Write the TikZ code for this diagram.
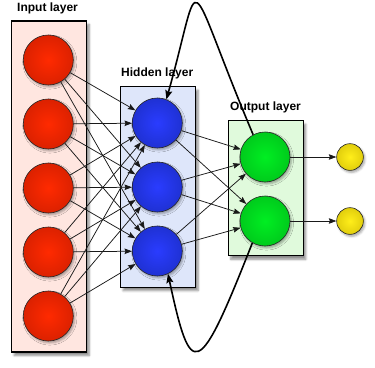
\documentclass[tikz,border=0pt]{standalone}
\usepackage{fontspec}
\setmainfont{Liberation Sans}
\usetikzlibrary{arrows.meta,shadows.blur}
\definecolor{redin}{HTML}{FF2A00}
\definecolor{redout}{HTML}{B81800}
\definecolor{bluein}{HTML}{2A3CFF}
\definecolor{blueout}{HTML}{1426A8}
\definecolor{greenin}{HTML}{00EE22}
\definecolor{greenout}{HTML}{00A816}
\definecolor{yellowin}{HTML}{FFEE1A}
\definecolor{yellowout}{HTML}{C4AE00}
\definecolor{infill}{HTML}{FFE6E0}
\definecolor{hidfill}{HTML}{DEE6FA}
\definecolor{outfill}{HTML}{E0FADC}
\pgfdeclareradialshading{redball}{\pgfpointorigin}{color(0bp)=(redin); color(50bp)=(redout)}
\pgfdeclareradialshading{blueball}{\pgfpointorigin}{color(0bp)=(bluein); color(50bp)=(blueout)}
\pgfdeclareradialshading{greenball}{\pgfpointorigin}{color(0bp)=(greenin); color(50bp)=(greenout)}
\pgfdeclareradialshading{yellowball}{\pgfpointorigin}{color(0bp)=(yellowin); color(50bp)=(yellowout)}
\begin{document}
\begin{tikzpicture}[x=1pt,y=-1pt,
  layerbox/.style={rectangle, draw=black, line width=1.3pt, minimum width=75pt, inner sep=0pt,
    blur shadow={shadow xshift=2.5pt, shadow yshift=-3.5pt, shadow blur steps=6, shadow opacity=45}},
  neuron/.style={circle, draw=black!85, line width=0.6pt, minimum size=50pt, inner sep=0pt,
    blur shadow={shadow xshift=1.5pt, shadow yshift=-2pt, shadow blur steps=4, shadow opacity=35}},
  inneuron/.style={neuron, shading=redball},
  hidneuron/.style={neuron, shading=blueball},
  outneuron/.style={neuron, shading=greenball},
  endneuron/.style={neuron, minimum size=26.7pt, shading=yellowball},
  layerlabel/.style={anchor=base west, inner sep=0pt, font=\bfseries\fontsize{12}{14}\selectfont},
  conn/.style={draw=black!90, line width=0.75pt, -{Stealth[length=7.5pt,width=5.5pt,inset=1pt]}},
  feedback/.style={draw=black, line width=1.6pt, -{Stealth[length=9pt,width=7pt,inset=1.5pt]}}
]
\useasboundingbox (0,0) rectangle (375,367);
% boxes
\node[layerbox, fill=infill, minimum height=331pt] (inbox) at (49.2,186.5) {};
\node[layerbox, fill=hidfill, minimum height=200.5pt] (hidbox) at (158.1,186.9) {};
\node[layerbox, fill=outfill, minimum height=135pt] (outbox) at (265.8,188.3) {};
% labels
\node[layerlabel] (inlabel) at (17,11) {Input layer};
\node[layerlabel] (hidlabel) at (121,76) {Hidden layer};
\node[layerlabel] (outlabel) at (230,110) {Output layer};
% neurons
\foreach \i/\y in {1/60,2/124,3/188,4/252,5/316}
  \node[inneuron] (i\i) at (48.3,\y) {};
\foreach \i/\y in {1/123,2/187,3/251}
  \node[hidneuron] (h\i) at (157.3,\y) {};
\foreach \i/\y in {1/157,2/221}
  \node[outneuron] (o\i) at (265,\y) {};
\foreach \i/\y in {1/157,2/221}
  \node[endneuron] (y\i) at (350,\y) {};
% connections
\foreach \a in {1,...,5}
  \foreach \b in {1,2,3}
    \draw[conn] (i\a) -- (h\b);
\foreach \a in {1,2,3}
  \foreach \b in {1,2}
    \draw[conn] (h\a) -- (o\b);
\draw[conn] (o1) -- (y1);
\draw[conn] (o2) -- (y2);
% feedback loops
\draw[feedback] (o1.118) .. controls (182,-34) and (204,-34) .. (h1.69);
\draw[feedback] (o2.240) .. controls (198,381) and (191,381) .. (h3.295);
\end{tikzpicture}
\end{document}
